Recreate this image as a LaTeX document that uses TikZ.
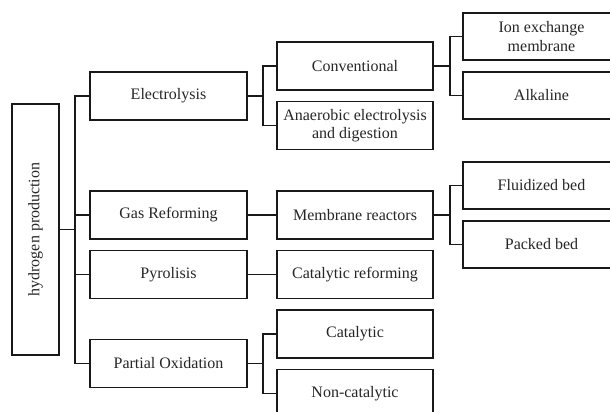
\documentclass[tikz,border=0pt]{standalone}
\usepackage{fontspec}
\setmainfont{Liberation Serif}
\begin{document}
\begin{tikzpicture}[x=1pt,y=-1pt,
  box/.style={draw=black!90, line width=1.6pt, fill=white, inner sep=2pt,
    align=center, font=\fontsize{16}{18.5}\selectfont, text=black!85},
  lvone/.style={box, minimum width=157pt, minimum height=48pt},
  lvtwo/.style={box, minimum width=156pt, minimum height=48pt},
  lvthree/.style={box, minimum width=157pt, minimum height=47pt},
  conn/.style={draw=black!90, line width=1.8pt}]
\useasboundingbox (0,0) rectangle (610,412);
\clip (0,0) rectangle (610,412);
% root
\node[box, rotate=90, minimum width=251pt, minimum height=47pt] (root) at (35.5,229.5) {hydrogen production};
% level 1
\node[lvone] (elec) at (168.5,96) {Electrolysis};
\node[lvone] (gas) at (168.5,215) {Gas Reforming};
\node[lvone] (pyro) at (168.5,274.5) {Pyrolisis};
\node[lvone] (pox) at (168.5,363.5) {Partial Oxidation};
% level 2
\node[lvtwo] (conv) at (355,66) {Conventional};
\node[lvtwo] (anae) at (355,125.5) {Anaerobic electrolysis\\and digestion};
\node[lvtwo] (memb) at (355,215) {Membrane reactors};
\node[lvtwo] (catref) at (355,274.5) {Catalytic reforming};
\node[lvtwo] (cat) at (355,334) {Catalytic};
\node[lvtwo] (noncat) at (355,393.5) {Non-catalytic};
% level 3
\node[lvthree] (ion) at (541.5,36.5) {Ion exchange\\membrane};
\node[lvthree] (alk) at (541.5,95.5) {Alkaline};
\node[lvthree] (fluid) at (541.5,185.5) {Fluidized bed};
\node[lvthree] (packed) at (541.5,244.5) {Packed bed};
% junctions
\coordinate (trunk) at (75,229.5);
\path (elec.east) ++(15,0) coordinate (ej);
\path (conv.east) ++(16,0) coordinate (cj);
\path (memb.east) ++(16,0) coordinate (mj);
\path (pox.east) ++(15,0) coordinate (pj);
% connectors
\draw[conn] (root.south) -- (trunk);
\draw[conn] (trunk) |- (elec.west);
\draw[conn] (trunk) |- (gas.west);
\draw[conn] (trunk) |- (pyro.west);
\draw[conn] (trunk) |- (pox.west);
\draw[conn] (elec.east) -- (ej);
\draw[conn] (ej) |- (conv.west);
\draw[conn] (ej) |- (anae.west);
\draw[conn] (conv.east) -- (cj);
\draw[conn] (cj) |- (ion.west);
\draw[conn] (cj) |- (alk.west);
\draw[conn] (gas.east) -- (memb.west);
\draw[conn] (memb.east) -- (mj);
\draw[conn] (mj) |- (fluid.west);
\draw[conn] (mj) |- (packed.west);
\draw[conn] (pyro.east) -- (catref.west);
\draw[conn] (pox.east) -- (pj);
\draw[conn] (pj) |- (cat.west);
\draw[conn] (pj) |- (noncat.west);
\end{tikzpicture}
\end{document}
